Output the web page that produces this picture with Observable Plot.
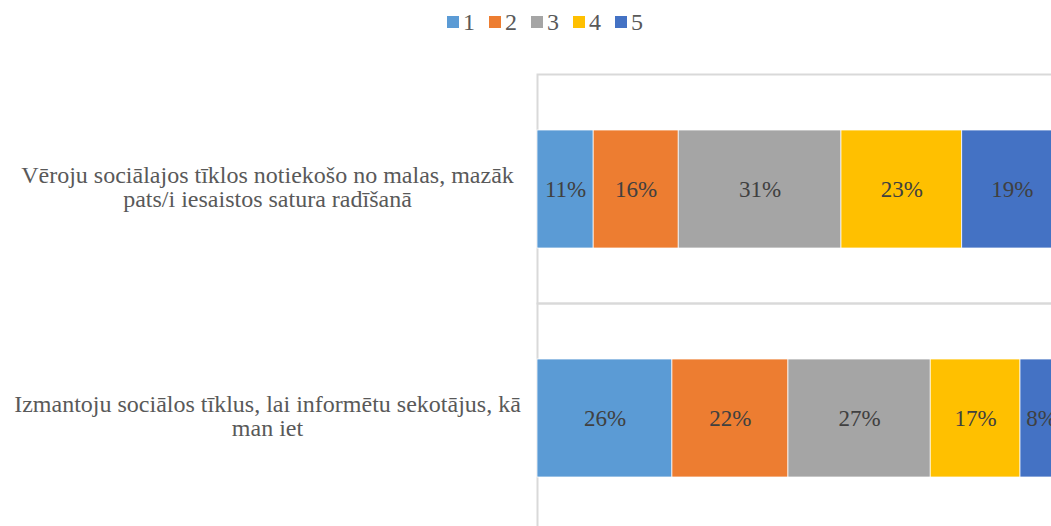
<!DOCTYPE html>
<html>
<head>
<meta charset="utf-8">
<script src="https://cdn.jsdelivr.net/npm/d3@7"></script>
<script src="https://cdn.jsdelivr.net/npm/@observablehq/plot@0.6"></script>
<style>
  html, body { margin: 0; padding: 0; background: white; overflow: hidden; }
  #wrap { position: relative; width: 1051px; height: 526px; overflow: hidden; }
  #legend { position: absolute; left: 447px; top: 8px; display: flex; font-family: "Liberation Serif", "Times New Roman", serif; font-size: 24px; line-height: 28px; color: #595959; }
  .item { display: flex; align-items: center; width: 42px; }
  .sw { width: 12px; height: 12px; margin-right: 4px; }
  #chart { position: absolute; left: 0; top: 0; }
</style>
</head>
<body>
<div id="wrap">
  <div id="chart"></div>
  <div id="legend"></div>
</div>
<script>
const categories = [
  "Vēroju sociālajos tīklos notiekošo no malas, mazāk pats/i iesaistos satura radīšanā",
  "Izmantoju sociālos tīklus, lai informētu sekotājus, kā man iet"
];
const categoryLines = [
  "Vēroju sociālajos tīklos notiekošo no malas, mazāk\npats/i iesaistos satura radīšanā",
  "Izmantoju sociālos tīklus, lai informētu sekotājus, kā\nman iet"
];
const series = ["1", "2", "3", "4", "5"];
const colors = ["#5B9BD5", "#ED7D31", "#A5A5A5", "#FFC000", "#4472C4"];
const valuesVeroju = [10.7, 16.2, 31.0, 23.0, 19.1];
const valuesIzmantoju = [25.7, 22.1, 27.1, 17.1, 8.0];

const allValues = [valuesVeroju, valuesIzmantoju];
const rows = [];
categories.forEach((q, i) => series.forEach((s, j) => rows.push({q, s, v: allValues[i][j]})));

const font = "'Liberation Serif', 'Times New Roman', serif";

const chart = Plot.plot({
  width: 1062,
  height: 532,
  marginLeft: 537,
  marginRight: 0,
  marginTop: 74,
  marginBottom: 0,
  style: {maxWidth: "none", fontFamily: font, fontSize: "24px", background: "white"},
  x: {domain: [0, 100], axis: null},
  y: {axis: null, padding: 0.32},
  fy: {domain: categories, axis: null, padding: 0},
  color: {domain: series, range: colors},
  marks: [
    Plot.frame({stroke: "#d9d9d9", strokeWidth: 2}),
    Plot.barX(rows, Plot.stackX({x: "v", y: () => "bar", fy: "q", fill: "s", stroke: "white", strokeWidth: 0.75})),
    Plot.text(rows, Plot.stackX({x: "v", y: () => "bar", fy: "q", z: "s", text: d => Math.round(d.v) + "%", fill: "#404040", fontSize: 23})),
    Plot.text(categories, {fy: d => d, text: (d, i) => categoryLines[i], frameAnchor: "left", textAnchor: "middle", dx: -270, dy: -2, lineHeight: 1.04, fill: "#595959", fontSize: 24})
  ]
});
document.getElementById("chart").appendChild(chart);

const legend = document.getElementById("legend");
series.forEach((s, i) => {
  const item = document.createElement("div");
  item.className = "item";
  const sw = document.createElement("div");
  sw.className = "sw";
  sw.style.background = colors[i];
  const lab = document.createElement("span");
  lab.textContent = s;
  item.appendChild(sw);
  item.appendChild(lab);
  legend.appendChild(item);
});
</script>
</body>
</html>
